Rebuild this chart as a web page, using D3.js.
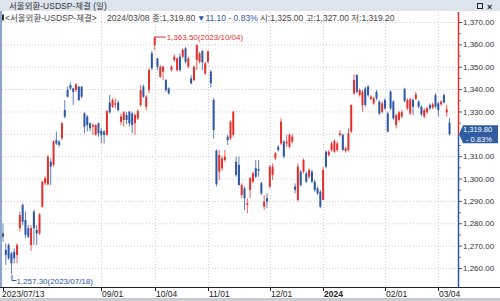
<!DOCTYPE html>
<html>
<head>
<meta charset="utf-8">
<script src="https://cdn.jsdelivr.net/npm/d3@7"></script>
<style>
  body { margin: 0; background: #fff; }
  svg { display: block; }
  text { font-family: "Liberation Sans", "Noto Sans CJK KR", sans-serif; }
</style>
</head>
<body>
<div id="chart"></div>
<script>
var dates = [
  "2023/07/13","2023/07/14","2023/07/17","2023/07/18","2023/07/19","2023/07/20","2023/07/21","2023/07/24","2023/07/25","2023/07/26",
  "2023/07/27","2023/07/28","2023/07/31","2023/08/01","2023/08/02","2023/08/03","2023/08/04","2023/08/07","2023/08/08","2023/08/09",
  "2023/08/10","2023/08/11","2023/08/14","2023/08/16","2023/08/17","2023/08/18","2023/08/21","2023/08/22","2023/08/23","2023/08/24",
  "2023/08/25","2023/08/28","2023/08/29","2023/08/30","2023/08/31","2023/09/01","2023/09/04","2023/09/05","2023/09/06","2023/09/07",
  "2023/09/08","2023/09/11","2023/09/12","2023/09/13","2023/09/14","2023/09/15","2023/09/18","2023/09/19","2023/09/20","2023/09/21",
  "2023/09/22","2023/09/25","2023/09/26","2023/09/27","2023/10/04","2023/10/05","2023/10/06","2023/10/10","2023/10/11","2023/10/12",
  "2023/10/13","2023/10/16","2023/10/17","2023/10/18","2023/10/19","2023/10/20","2023/10/23","2023/10/24","2023/10/25","2023/10/26",
  "2023/10/27","2023/10/30","2023/10/31","2023/11/01","2023/11/02","2023/11/03","2023/11/06","2023/11/07","2023/11/08","2023/11/09",
  "2023/11/10","2023/11/13","2023/11/14","2023/11/15","2023/11/16","2023/11/17","2023/11/20","2023/11/21","2023/11/22","2023/11/23",
  "2023/11/24","2023/11/27","2023/11/28","2023/11/29","2023/11/30","2023/12/01","2023/12/04","2023/12/05","2023/12/06","2023/12/07",
  "2023/12/08","2023/12/11","2023/12/12","2023/12/13","2023/12/14","2023/12/15","2023/12/18","2023/12/19","2023/12/20","2023/12/21",
  "2023/12/22","2023/12/26","2023/12/27","2023/12/28","2024/01/02","2024/01/03","2024/01/04","2024/01/05","2024/01/08","2024/01/09",
  "2024/01/10","2024/01/11","2024/01/12","2024/01/15","2024/01/16","2024/01/17","2024/01/18","2024/01/19","2024/01/22","2024/01/23",
  "2024/01/24","2024/01/25","2024/01/26","2024/01/29","2024/01/30","2024/01/31","2024/02/01","2024/02/02","2024/02/05","2024/02/06",
  "2024/02/07","2024/02/08","2024/02/13","2024/02/14","2024/02/15","2024/02/16","2024/02/19","2024/02/20","2024/02/21","2024/02/22",
  "2024/02/23","2024/02/26","2024/02/27","2024/02/28","2024/02/29","2024/03/04","2024/03/05","2024/03/06","2024/03/07","2024/03/08"
];

var open = [
  1275.5,1268.1,1270.3,1266.6,1267.3,1265.8,1277.8,1288.2,1281.5,1277.8,
  1270.3,1285.2,1277.0,1275.5,1287.4,1298.0,1297.4,1307.5,1306.1,1317.2,
  1316.5,1318.0,1330.6,1339.6,1341.8,1340.3,1339.6,1341.1,1341.1,1329.2,
  1327.7,1324.7,1323.2,1319.5,1324.7,1321.3,1321.0,1319.5,1334.0,1332.1,
  1333.0,1334.0,1325.4,1326.2,1328.4,1329.9,1329.1,1324.7,1326.9,1332.9,
  1341.1,1332.1,1339.6,1356.0,1359.7,1353.7,1345.5,1347.8,1344.0,1340.3,
  1348.5,1353.0,1348.5,1354.5,1354.5,1358.2,1350.0,1344.8,1344.0,1353.0,
  1352.2,1357.0,1347.0,1352.2,1347.8,1335.1,1312.5,1303.1,1304.6,1308.3,
  1318.7,1318.0,1319.5,1307.5,1306.1,1292.6,1295.6,1288.2,1294.9,1298.6,
  1304.6,1304.2,1297.9,1287.4,1291.2,1296.4,1301.6,1309.0,1314.2,1315.7,
  1316.5,1315.7,1314.2,1316.5,1296.4,1290.4,1303.1,1303.1,1302.3,1300.8,
  1303.1,1298.6,1295.6,1294.1,1290.4,1312.0,1310.5,1312.8,1312.0,1312.8,
  1319.5,1319.5,1312.3,1312.8,1321.0,1338.1,1346.3,1337.3,1332.9,1340.3,
  1341.1,1335.6,1333.6,1338.8,1334.4,1329.9,1335.1,1329.1,1338.8,1334.4,
  1323.9,1326.2,1327.7,1340.0,1331.4,1329.1,1335.1,1335.6,1334.4,1332.1,
  1327.7,1329.6,1332.9,1331.7,1337.3,1333.6,1333.2,1337.3,1329.6,1325.0
];

var high = [
  1280.0,1271.0,1271.0,1267.3,1268.8,1271.0,1285.2,1288.9,1285.2,1279.2,
  1279.2,1286.0,1279.2,1284.5,1299.0,1301.0,1310.5,1309.0,1317.2,1321.0,
  1317.2,1325.4,1335.1,1341.1,1343.0,1340.6,1342.6,1341.4,1341.4,1329.6,
  1328.4,1325.1,1324.7,1324.2,1325.0,1322.5,1321.7,1330.6,1337.4,1336.0,
  1335.9,1335.0,1329.1,1330.2,1329.6,1330.2,1329.9,1329.1,1331.0,1341.8,
  1342.0,1337.3,1349.3,1357.0,1363.5,1354.0,1350.8,1350.5,1344.5,1340.8,
  1350.8,1355.5,1354.2,1356.0,1358.2,1358.8,1354.5,1346.3,1350.5,1360.0,
  1356.7,1357.5,1352.2,1357.5,1348.5,1336.0,1313.0,1312.8,1310.0,1312.8,
  1319.5,1326.0,1330.2,1309.8,1309.8,1297.9,1296.4,1291.2,1300.8,1303.1,
  1308.3,1308.3,1298.6,1292.6,1293.4,1306.1,1306.8,1312.0,1315.0,1326.9,
  1317.2,1319.5,1320.2,1320.0,1297.9,1306.8,1303.8,1309.0,1303.1,1304.6,
  1303.8,1299.4,1296.4,1294.9,1305.3,1312.5,1312.8,1316.5,1317.5,1316.5,
  1321.7,1320.2,1314.2,1322.4,1333.2,1346.6,1346.6,1340.3,1339.6,1341.0,
  1341.8,1337.3,1336.6,1339.6,1335.0,1334.4,1335.9,1329.9,1339.6,1335.0,
  1329.1,1330.2,1330.6,1340.6,1335.9,1336.0,1335.9,1338.8,1335.0,1332.9,
  1331.4,1332.1,1333.6,1334.0,1338.1,1334.4,1335.1,1338.1,1332.9,1327.0
];

var low = [
  1271.8,1261.4,1263.6,1257.3,1262.1,1262.1,1276.3,1279.2,1273.3,1273.3,
  1267.6,1270.3,1270.3,1274.8,1287.0,1297.0,1297.0,1297.1,1305.3,1315.0,
  1314.2,1317.2,1326.9,1336.2,1339.6,1332.9,1338.8,1334.7,1335.9,1320.2,
  1321.0,1321.3,1319.5,1319.2,1318.7,1315.7,1315.7,1319.2,1329.0,1331.5,
  1331.4,1330.0,1323.9,1323.2,1324.3,1323.2,1320.2,1319.5,1326.2,1332.1,
  1336.0,1330.6,1338.1,1348.5,1357.5,1348.5,1345.0,1344.0,1338.8,1337.6,
  1347.8,1352.2,1347.8,1347.8,1353.7,1351.5,1349.3,1342.1,1343.5,1348.5,
  1351.5,1348.5,1346.3,1351.5,1340.7,1318.0,1296.5,1299.4,1303.5,1307.5,
  1315.0,1317.2,1318.7,1300.8,1296.8,1291.2,1285.9,1284.5,1291.2,1297.9,
  1300.1,1300.8,1292.6,1285.9,1286.7,1295.6,1299.4,1308.3,1312.0,1315.0,
  1309.0,1314.2,1313.5,1315.7,1293.4,1289.7,1296.4,1302.3,1297.9,1300.1,
  1297.9,1294.1,1292.6,1286.7,1290.4,1304.6,1309.8,1312.0,1311.5,1312.0,
  1318.7,1312.3,1311.5,1312.0,1320.2,1337.3,1338.1,1336.6,1329.9,1332.1,
  1336.6,1335.1,1333.0,1335.1,1328.4,1329.1,1330.6,1320.6,1330.6,1326.2,
  1322.4,1325.4,1327.0,1334.0,1330.6,1328.4,1328.4,1335.1,1331.4,1328.0,
  1326.9,1329.0,1330.6,1331.0,1331.4,1327.7,1332.5,1333.6,1327.7,1319.2
];

var close = [
  1274.0,1265.8,1264.3,1262.1,1264.3,1270.3,1283.7,1280.7,1274.8,1274.0,
  1277.8,1277.8,1275.5,1284.0,1298.6,1300.2,1309.8,1305.3,1316.5,1315.7,
  1315.0,1324.7,1327.7,1336.6,1340.3,1338.8,1342.1,1335.1,1336.6,1323.2,
  1323.9,1322.5,1323.9,1323.9,1320.2,1319.5,1319.5,1330.2,1329.6,1335.1,
  1333.6,1330.6,1327.7,1329.6,1326.2,1324.7,1323.9,1328.4,1330.2,1339.6,
  1336.6,1336.6,1348.5,1349.3,1363.0,1350.0,1350.0,1350.0,1339.6,1338.1,
  1350.0,1354.5,1353.7,1348.5,1357.5,1352.2,1353.7,1342.6,1350.0,1359.7,
  1356.0,1352.0,1351.5,1356.7,1342.6,1321.7,1297.5,1310.5,1309.0,1309.8,
  1317.2,1325.4,1329.9,1301.6,1297.1,1297.1,1291.2,1288.9,1300.1,1302.3,
  1300.8,1303.5,1293.4,1289.7,1289.7,1305.3,1305.3,1311.3,1312.8,1325.4,
  1309.8,1316.5,1319.5,1318.7,1294.9,1305.3,1297.1,1308.3,1298.6,1303.8,
  1298.6,1294.9,1293.4,1287.4,1303.8,1305.3,1312.0,1315.7,1316.8,1315.7,
  1320.2,1312.8,1313.5,1320.2,1332.9,1344.0,1338.8,1339.6,1338.8,1332.9,
  1337.3,1336.6,1335.9,1335.9,1329.1,1333.6,1331.4,1321.0,1331.4,1326.9,
  1328.4,1329.6,1329.6,1334.7,1335.1,1335.5,1332.1,1337.6,1332.1,1328.7,
  1330.6,1331.4,1331.4,1333.2,1332.1,1330.6,1334.4,1334.0,1330.9,1319.8
];

var tickDates = ["2023/07/13", "2023/09/01", "2023/10/04", "2023/11/01", "2023/12/01", "2024/01/02", "2024/02/01", "2024/03/04"];
var tickLabels = ["2023/07/13", "09/01", "10/04", "11/01", "12/01", "2024", "02/01", "03/04"];
var priceTicks = [1260, 1270, 1280, 1290, 1300, 1310, 1320, 1330, 1340, 1350, 1360, 1370];

var width = 500, height = 301,
  plot = { left: 2, right: 458, top: 12, bottom: 287 };

var red = "#e3302c", blue = "#2d56a6";
var fmt = d3.format(",.2f");

var xScale = d3.scaleLinear().domain([0, 155]).range([3, 438.3]);
var yScale = d3.scaleLinear().domain([1260, 1370]).range([268, 22]);

var candles = dates.map(function(d, i) {
  return { date: d, i: i, o: open[i], h: high[i], l: low[i], c: close[i] };
});

var svg = d3.select("#chart").append("svg")
  .attr("width", width)
  .attr("height", height);

// header bar
svg.append("rect").attr("width", width).attr("height", 11).attr("fill", "#dde4ee");
svg.append("text").attr("x", 9).attr("y", 9)
  .attr("font-size", 8.5).attr("fill", "#333")
  .text("서울외환-USDSP-체결 (일)");
svg.append("rect").attr("x", 477.5).attr("y", 3.5).attr("width", 5).attr("height", 5)
  .attr("fill", "none").attr("stroke", "#222");
svg.append("text").attr("x", 487).attr("y", 9.5)
  .attr("font-size", 9).attr("font-weight", "bold").attr("fill", "#222").text("×");

// grid
var grid = svg.append("g").attr("stroke", "#cfcfcf").attr("stroke-dasharray", "1,2");
grid.selectAll("line.h").data(priceTicks).enter().append("line")
  .attr("x1", plot.left).attr("x2", plot.right)
  .attr("y1", function(d) { return yScale(d) + 0.5; })
  .attr("y2", function(d) { return yScale(d) + 0.5; });
grid.selectAll("line.v").data(tickDates.slice(1)).enter().append("line")
  .attr("x1", function(d) { return Math.round(xScale(dates.indexOf(d))) + 0.5; })
  .attr("x2", function(d) { return Math.round(xScale(dates.indexOf(d))) + 0.5; })
  .attr("y1", plot.top).attr("y2", plot.bottom);

// info line
var info = svg.append("g").attr("font-size", 8.5).attr("fill", "#444");
var last = candles[candles.length - 1], prev = candles[candles.length - 2];
var chg = last.c - prev.c;
var pct = d3.format(".2f")(Math.abs(chg / prev.c * 100));
info.append("rect").attr("x", 2).attr("y", 14.5).attr("width", 2).attr("height", 6).attr("fill", "#333");
info.append("text").attr("x", 5).attr("y", 21).text("<서울외환-USDSP-체결>");
info.append("text").attr("x", 107).attr("y", 21).text(last.date + " 종:" + fmt(last.c));
info.append("text").attr("x", 197).attr("y", 21).attr("fill", blue)
  .text("▼" + fmt(Math.abs(chg)) + "  - " + pct + "%");
info.append("text").attr("x", 260).attr("y", 21)
  .text("시:" + fmt(last.o) + " 고:" + fmt(last.h) + " 저:" + fmt(last.l));

// candles
var g = svg.append("g");
g.selectAll("line.wick").data(candles).enter().append("line")
  .attr("x1", function(d) { return xScale(d.i); })
  .attr("x2", function(d) { return xScale(d.i); })
  .attr("y1", function(d) { return yScale(d.h); })
  .attr("y2", function(d) { return yScale(d.l); })
  .attr("stroke", function(d) { return d.c >= d.o ? red : blue; })
  .attr("stroke-width", 1)
  .attr("opacity", 0.75);
g.selectAll("rect.body").data(candles).enter().append("rect")
  .attr("x", function(d) { return xScale(d.i) - 1; })
  .attr("width", 2)
  .attr("y", function(d) { return yScale(Math.max(d.o, d.c)); })
  .attr("height", function(d) { return Math.max(1, Math.abs(yScale(d.o) - yScale(d.c))); })
  .attr("fill", function(d) { return d.c >= d.o ? red : blue; });

// high / low annotations
var hi = candles.reduce(function(a, b) { return b.h > a.h ? b : a; });
var lo = candles.reduce(function(a, b) { return b.l < a.l ? b : a; });
var hx = xScale(hi.i), hy = yScale(hi.h);
svg.append("path").attr("d", "M" + hx + "," + (hy + 0.5) + "H" + (hx + 11))
  .attr("stroke", red).attr("fill", "none");
svg.append("text").attr("x", hx + 12).attr("y", hy + 3)
  .attr("font-size", 8).attr("fill", red)
  .text(fmt(hi.h) + "(" + hi.date + ")");
var lx = xScale(lo.i), ly = yScale(lo.l);
svg.append("path").attr("d", "M" + (lx + 0.5) + "," + (ly + 1) + "V" + (ly + 6.5) + "H" + (lx + 5))
  .attr("stroke", blue).attr("fill", "none");
svg.append("text").attr("x", lx + 5).attr("y", ly + 9.5)
  .attr("font-size", 8).attr("fill", blue)
  .text(fmt(lo.l) + "(" + lo.date + ")");

// left frame line
svg.append("rect").attr("x", 0).attr("y", 11).attr("width", 2).attr("height", plot.bottom - 11)
  .attr("fill", "#8ea6cc");

// right price axis
var cy = yScale(last.c);
svg.append("line").attr("x1", plot.right + 0.5).attr("x2", plot.right + 0.5)
  .attr("y1", plot.top).attr("y2", cy).attr("stroke", red).attr("stroke-width", 1.5);
svg.append("line").attr("x1", plot.right + 0.5).attr("x2", plot.right + 0.5)
  .attr("y1", cy).attr("y2", plot.bottom).attr("stroke", blue).attr("stroke-width", 1.5);

// labels hidden behind the current price tag are left out
var axisY = d3.axisRight(yScale)
  .tickValues(priceTicks)
  .tickSize(3)
  .tickPadding(1)
  .tickFormat(function(d) { return Math.abs(yScale(d) - cy) < 10 ? "" : fmt(d); });
var ay = svg.append("g")
  .attr("transform", "translate(" + (plot.right + 1) + ",0)")
  .call(axisY);
ay.select(".domain").remove();
ay.selectAll("text").attr("font-size", 8).attr("fill", "#333").attr("font-family", "Liberation Sans");
ay.selectAll("line").attr("stroke", "#555");
svg.append("g").attr("transform", "translate(" + (plot.right + 1) + ",0)")
  .call(d3.axisRight(yScale).tickValues(priceTicks.map(function(d) { return d + 5; }).filter(function(d) { return d < 1372; })).tickSize(2).tickFormat(""))
  .call(function(s) { s.select(".domain").remove(); s.selectAll("line").attr("stroke", "#777"); });

// current price tag
svg.append("path")
  .attr("d", "M" + (plot.right + 1) + "," + cy + "L" + (plot.right + 5) + "," + (cy - 9) + "H498V" + (cy + 9) + "H" + (plot.right + 5) + "Z")
  .attr("fill", "#2f5b9f");
svg.append("text").attr("x", 463).attr("y", cy - 2).attr("font-size", 7.5).attr("fill", "#fff")
  .text(fmt(last.c));
svg.append("text").attr("x", 466).attr("y", cy + 7.5).attr("font-size", 7.5).attr("fill", "#fff")
  .text("- " + pct + "%");

// bottom date axis
svg.append("rect").attr("x", 0).attr("y", plot.bottom).attr("width", width).attr("height", height - plot.bottom).attr("fill", "#fff");
svg.append("line").attr("x1", 0).attr("x2", width).attr("y1", plot.bottom + 0.5).attr("y2", plot.bottom + 0.5)
  .attr("stroke", "#222");
var ax = svg.append("g");
ax.selectAll("line").data(tickDates).enter().append("line")
  .attr("x1", function(d) { return Math.round(xScale(dates.indexOf(d))) + 0.5; })
  .attr("x2", function(d) { return Math.round(xScale(dates.indexOf(d))) + 0.5; })
  .attr("y1", plot.bottom).attr("y2", plot.bottom + 4)
  .attr("stroke", "#222");
ax.selectAll("text").data(tickDates).enter().append("text")
  .attr("x", function(d, i) { return i == 0 ? 2 : Math.round(xScale(dates.indexOf(d))) + 1; })
  .attr("y", plot.bottom + 10)
  .attr("font-size", 8.5)
  .attr("font-weight", function(d, i) { return tickLabels[i] == "2024" ? "bold" : "normal"; })
  .attr("fill", "#222")
  .text(function(d, i) { return tickLabels[i]; });
svg.append("rect").attr("x", 0).attr("y", 298).attr("width", width).attr("height", 3).attr("fill", "#c9ccd1");
</script>
</body>
</html>
